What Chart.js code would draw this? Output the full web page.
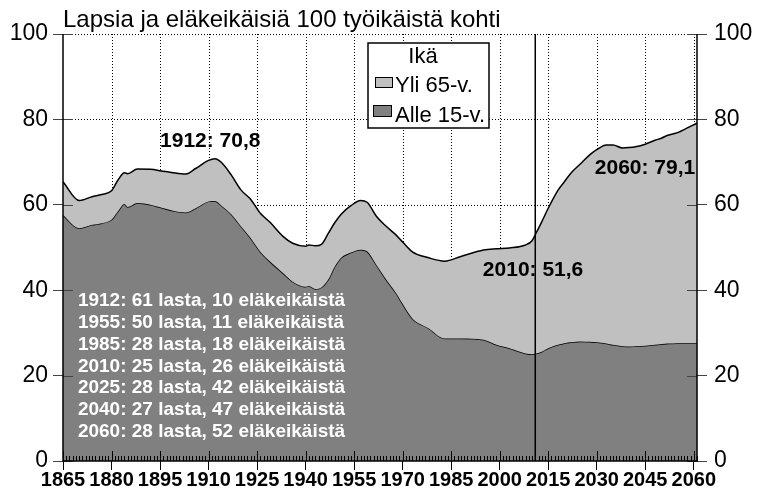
<!DOCTYPE html>
<html><head><meta charset="utf-8">
<script src="https://cdn.jsdelivr.net/npm/chart.js@4.4.0/dist/chart.umd.min.js"></script>
<style>html,body{margin:0;padding:0;background:#fff}#wrap{width:758px;height:498px}</style>
</head><body><div id="wrap"><canvas id="c" width="758" height="498"></canvas></div>
<script>
const chartTitle = 'Lapsia ja eläkeikäisiä 100 työikäistä kohti';
const legendTitle = 'Ikä';
const seriesNames = ['Yli 65-v.', 'Alle 15-v.'];
const years = [1865,1870,1874,1877,1880,1882,1884,1885,1888,1892,1895,1899,1903,1906,1910,1912,1914,1917,1920,1923,1926,1929,1933,1936,1940,1941,1943,1945,1947,1949,1951,1954,1957,1959,1962,1965,1968,1970,1973,1978,1983,1988,1995,1999,2003,2008,2010,2011,2013,2015,2018,2020,2022,2025,2028,2030,2033,2035,2038,2040,2042,2045,2048,2050,2052,2055,2058,2061];
const totalValues = [65.4,61.0,61.9,62.4,63.3,65.8,67.5,67.3,68.4,68.3,68.0,67.5,67.2,68.5,70.4,70.8,69.9,67.0,63.5,61.3,58.0,55.9,52.6,51.0,50.3,50.6,50.4,50.8,53.3,55.8,57.8,59.8,61.0,60.6,57.2,54.9,52.9,51.3,49.0,47.6,46.8,47.9,49.4,49.7,49.9,50.6,51.6,53.0,56.0,59.2,63.4,65.4,67.4,69.6,71.8,72.9,74.0,74.0,73.3,73.4,73.6,74.2,75.1,75.6,76.3,76.9,78.0,79.1];
const under15Values = [57.6,54.5,55.3,55.7,56.5,58.5,60.2,59.5,60.4,60.0,59.4,58.6,58.2,59.2,60.8,60.9,59.8,57.8,55.0,52.2,49.0,46.7,44.0,42.0,40.8,41.0,40.3,40.7,42.5,45.5,47.6,48.8,49.5,49.1,45.8,42.4,39.3,36.8,33.4,31.1,28.7,28.7,28.4,27.2,26.4,25.2,25.0,25.1,25.6,26.4,27.2,27.6,27.8,28.0,27.9,27.8,27.5,27.2,26.9,26.8,26.9,27.0,27.2,27.4,27.5,27.6,27.6,27.6];
const xTickYears = [1865,1880,1895,1910,1925,1940,1955,1970,1985,2000,2015,2030,2045,2060];
const yTickValues = [0,20,40,60,80,100];
const markerYear = 2011;
const noteTexts = ['1912: 70,8', '2060: 79,1', '2010: 51,6'];
const listYears = [1912,1955,1985,2010,2025,2040,2060];
const listChildren = [61,50,28,25,28,27,28];
const listElderly = [10,11,18,26,42,47,52];

const FONT = "'Liberation Sans', Arial, sans-serif";
Chart.defaults.font.family = FONT;

const decor = {
  id: 'decor',
  beforeDraw(chart) {
    const ctx = chart.ctx;
    ctx.save(); ctx.fillStyle = '#fff'; ctx.fillRect(0, 0, chart.width, chart.height); ctx.restore();
  },
  beforeDatasetsDraw(chart) {
    const {ctx, chartArea: ca, scales: {x, y}} = chart;
    ctx.save();
    ctx.strokeStyle = '#000'; ctx.lineWidth = 1; ctx.setLineDash([1, 2]);
    xTickYears.forEach(v => {
      const px = Math.round(x.getPixelForValue(v)) + 0.5;
      if (px <= ca.left + 1) return;
      ctx.beginPath(); ctx.moveTo(px, ca.top); ctx.lineTo(px, ca.bottom); ctx.stroke();
    });
    yTickValues.forEach(v => {
      if (v === 0) return;
      const py = Math.round(y.getPixelForValue(v)) + 0.5;
      ctx.beginPath(); ctx.moveTo(ca.left, py); ctx.lineTo(ca.right, py); ctx.stroke();
    });
    ctx.restore();
  },
  afterDatasetsDraw(chart) {
    const {ctx, chartArea: ca, scales: {x, y}} = chart;
    ctx.save();
    ctx.strokeStyle = '#000'; ctx.lineWidth = 1;
    for (let yr = 1865; yr <= 2061; yr++) {
      const px = Math.round(x.getPixelForValue(yr)) + 0.5;
      const major = xTickYears.includes(yr);
      ctx.beginPath(); ctx.moveTo(px, ca.bottom); ctx.lineTo(px, ca.bottom - (major ? 10 : 5)); ctx.stroke();
    }
    ctx.strokeStyle = '#444';
    yTickValues.forEach(v => {
      const py = Math.round(y.getPixelForValue(v)) + 0.5;
      ctx.beginPath(); ctx.moveTo(ca.left, py); ctx.lineTo(ca.left + 10, py); ctx.stroke();
      ctx.beginPath(); ctx.moveTo(ca.right - 10, py); ctx.lineTo(ca.right, py); ctx.stroke();
    });
    const mx = x.getPixelForValue(markerYear);
    ctx.strokeStyle = '#000'; ctx.lineWidth = 1.5;
    ctx.beginPath(); ctx.moveTo(mx, ca.top); ctx.lineTo(mx, ca.bottom); ctx.stroke();
    ctx.beginPath(); ctx.moveTo(ca.left, ca.top); ctx.lineTo(ca.left, ca.bottom); ctx.lineTo(ca.right, ca.bottom); ctx.lineTo(ca.right, ca.top); ctx.stroke();
    ctx.fillStyle = '#000'; ctx.font = 'bold 21px ' + FONT; ctx.textBaseline = 'alphabetic';
    ctx.textAlign = 'left';
    ctx.fillText(noteTexts[0], x.getPixelForValue(1895), y.getPixelForValue(73.6));
    ctx.fillText(noteTexts[1], x.getPixelForValue(2029.4), y.getPixelForValue(67.2));
    ctx.fillText(noteTexts[2], x.getPixelForValue(1994.8), y.getPixelForValue(43.3));
    ctx.fillStyle = '#fff'; ctx.font = 'bold 19px ' + FONT;
    listYears.forEach((yr, i) => {
      const t = yr + ': ' + listChildren[i] + ' lasta, ' + listElderly[i] + ' eläkeikäistä';
      ctx.fillText(t, x.getPixelForValue(1869.6), y.getPixelForValue(36.2) + i * 21.7);
    });
    const lx = ca.left + 305, ly = ca.top + 9, lw = 121, lh = 85;
    ctx.fillStyle = '#fff'; ctx.fillRect(lx, ly, lw, lh);
    ctx.strokeStyle = '#000'; ctx.lineWidth = 1.5; ctx.strokeRect(lx, ly, lw, lh);
    ctx.fillStyle = '#000'; ctx.font = '22px ' + FONT; ctx.textAlign = 'center';
    ctx.fillText(legendTitle, lx + 55, ly + 20);
    ctx.textAlign = 'left';
    const ds = chart.data.datasets;
    const rows = [{sx: lx + 7, sy: ly + 34, sw: 17, sh: 10, ty: ly + 49}, {sx: lx + 5, sy: ly + 62, sw: 18, sh: 11, ty: ly + 79}];
    rows.forEach((r, i) => {
      ctx.fillStyle = ds[i].backgroundColor; ctx.fillRect(r.sx, r.sy, r.sw, r.sh);
      ctx.strokeStyle = '#000'; ctx.lineWidth = 1; ctx.strokeRect(r.sx + 0.5, r.sy + 0.5, r.sw, r.sh);
      ctx.fillStyle = '#000'; ctx.fillText(ds[i].label, lx + 27, r.ty);
    });
    ctx.restore();
  },
  afterDraw(chart) {
    const {ctx, chartArea: ca} = chart;
    ctx.save();
    ctx.fillStyle = '#000'; ctx.font = '24px ' + FONT; ctx.textAlign = 'left'; ctx.textBaseline = 'alphabetic';
    ctx.fillText(chartTitle, ca.left, 27);
    ctx.restore();
  }
};

const pts = vals => years.map((yr, i) => ({x: yr, y: vals[i]}));
const yTickFont = {size: 23};

new Chart(document.getElementById('c'), {
  type: 'line',
  data: {
    datasets: [
      {label: seriesNames[0], data: pts(totalValues), backgroundColor: '#c0c0c0', borderColor: '#000', borderWidth: 1.5, fill: '+1', pointRadius: 0, cubicInterpolationMode: 'monotone'},
      {label: seriesNames[1], data: pts(under15Values), backgroundColor: '#808080', borderColor: '#000', borderWidth: 1.5, fill: 'origin', pointRadius: 0, cubicInterpolationMode: 'monotone'}
    ]
  },
  options: {
    responsive: false, animation: false, devicePixelRatio: 1,
    layout: {padding: {top: 34, left: 0, right: 0, bottom: 0}},
    plugins: {legend: {display: false}, title: {display: false}, tooltip: {enabled: false}},
    scales: {
      x: {
        type: 'linear', min: 1865, max: 2061,
        afterBuildTicks: s => { s.ticks = xTickYears.map(v => ({value: v})); },
        ticks: {autoSkip: false, maxRotation: 0, minRotation: 0, padding: -2, color: '#000', font: {size: 20, weight: 'bold'}, callback: v => String(v)},
        grid: {drawOnChartArea: false, tickLength: 9, tickColor: '#000', drawTicks: true},
        border: {display: false},
        afterFit: s => { s.height = 37; }
      },
      y: {
        position: 'left', min: 0, max: 100,
        afterBuildTicks: s => { s.ticks = yTickValues.map(v => ({value: v})); },
        ticks: {padding: 5, color: '#000', font: yTickFont},
        grid: {drawOnChartArea: false, tickLength: 10, tickColor: '#444'},
        border: {display: false},
        afterFit: s => { s.width = 63; }
      },
      y2: {
        position: 'right', min: 0, max: 100,
        afterBuildTicks: s => { s.ticks = yTickValues.map(v => ({value: v})); },
        ticks: {padding: 7, color: '#000', font: yTickFont},
        grid: {drawOnChartArea: false, tickLength: 10, tickColor: '#444'},
        border: {display: false},
        afterFit: s => { s.width = 61; }
      }
    }
  },
  plugins: [decor]
});
</script></body></html>
